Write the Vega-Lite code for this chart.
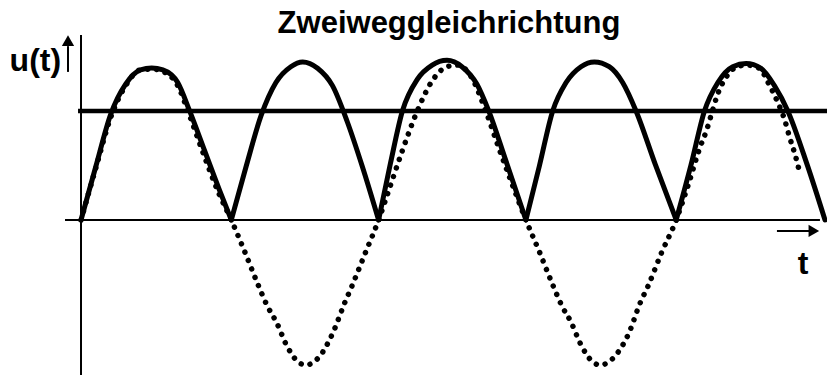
{
  "$schema": "https://vega.github.io/schema/vega-lite/v6.json",
  "width": 827,
  "height": 375,
  "padding": 0,
  "autosize": {"type": "none"},
  "background": "white",
  "config": {"view": {"stroke": null}},
  "datasets": {
    "solid": [
      {"hump": 1, "t": 0, "u": 0}, {"hump": 1, "t": 1, "u": 0.34}, {"hump": 1, "t": 2, "u": 0.67}, {"hump": 1, "t": 3, "u": 0.86}, {"hump": 1, "t": 4, "u": 0.95}, {"hump": 1, "t": 4.75, "u": 0.962}, {"hump": 1, "t": 5.5, "u": 0.95}, {"hump": 1, "t": 6.5, "u": 0.87}, {"hump": 1, "t": 7.3, "u": 0.69}, {"hump": 1, "t": 8.3, "u": 0.44}, {"hump": 1, "t": 9.3, "u": 0.19}, {"hump": 1, "t": 10.1, "u": 0},
      {"hump": 2, "t": 10.1, "u": 0}, {"hump": 2, "t": 11.1, "u": 0.34}, {"hump": 2, "t": 12.1, "u": 0.66}, {"hump": 2, "t": 13.1, "u": 0.87}, {"hump": 2, "t": 14.1, "u": 0.97}, {"hump": 2, "t": 14.9, "u": 1.0}, {"hump": 2, "t": 15.9, "u": 0.96}, {"hump": 2, "t": 16.9, "u": 0.85}, {"hump": 2, "t": 17.9, "u": 0.62}, {"hump": 2, "t": 18.9, "u": 0.34}, {"hump": 2, "t": 20.0, "u": 0},
      {"hump": 3, "t": 20.0, "u": 0}, {"hump": 3, "t": 20.8, "u": 0.36}, {"hump": 3, "t": 21.6, "u": 0.69}, {"hump": 3, "t": 22.6, "u": 0.89}, {"hump": 3, "t": 23.6, "u": 0.98}, {"hump": 3, "t": 24.6, "u": 1.01}, {"hump": 3, "t": 25.6, "u": 0.97}, {"hump": 3, "t": 26.6, "u": 0.86}, {"hump": 3, "t": 27.4, "u": 0.69}, {"hump": 3, "t": 28.5, "u": 0.39}, {"hump": 3, "t": 29.9, "u": 0},
      {"hump": 4, "t": 29.9, "u": 0}, {"hump": 4, "t": 30.8, "u": 0.34}, {"hump": 4, "t": 31.7, "u": 0.69}, {"hump": 4, "t": 32.6, "u": 0.87}, {"hump": 4, "t": 33.6, "u": 0.97}, {"hump": 4, "t": 34.5, "u": 1.0}, {"hump": 4, "t": 35.5, "u": 0.97}, {"hump": 4, "t": 36.4, "u": 0.87}, {"hump": 4, "t": 37.3, "u": 0.69}, {"hump": 4, "t": 38.6, "u": 0.35}, {"hump": 4, "t": 40.0, "u": 0},
      {"hump": 5, "t": 40.0, "u": 0}, {"hump": 5, "t": 41.0, "u": 0.35}, {"hump": 5, "t": 41.9, "u": 0.69}, {"hump": 5, "t": 42.8, "u": 0.87}, {"hump": 5, "t": 43.8, "u": 0.97}, {"hump": 5, "t": 44.7, "u": 0.99}, {"hump": 5, "t": 45.7, "u": 0.96}, {"hump": 5, "t": 46.6, "u": 0.85}, {"hump": 5, "t": 47.5, "u": 0.69}, {"hump": 5, "t": 48.8, "u": 0.35}, {"hump": 5, "t": 50.0, "u": 0}
    ],
    "dotted": [
      {"t": 0, "u": 0}, {"t": 1, "u": 0.33}, {"t": 2, "u": 0.65}, {"t": 3, "u": 0.85}, {"t": 4, "u": 0.95}, {"t": 4.75, "u": 0.955}, {"t": 5.5, "u": 0.94}, {"t": 6.5, "u": 0.85}, {"t": 7.3, "u": 0.66}, {"t": 8.3, "u": 0.4}, {"t": 9.3, "u": 0.16}, {"t": 10.1, "u": 0},
      {"t": 11.0, "u": -0.2}, {"t": 11.9, "u": -0.41}, {"t": 12.5, "u": -0.54}, {"t": 13.15, "u": -0.65}, {"t": 13.8, "u": -0.79}, {"t": 14.5, "u": -0.89}, {"t": 15.1, "u": -0.918}, {"t": 16.06, "u": -0.86}, {"t": 16.9, "u": -0.72}, {"t": 17.74, "u": -0.52}, {"t": 18.2, "u": -0.42}, {"t": 19.1, "u": -0.21}, {"t": 20.0, "u": 0},
      {"t": 20.8, "u": 0.22}, {"t": 21.6, "u": 0.44}, {"t": 22.6, "u": 0.69}, {"t": 23.6, "u": 0.88}, {"t": 24.6, "u": 0.97}, {"t": 25.3, "u": 0.98}, {"t": 26.2, "u": 0.91}, {"t": 27.2, "u": 0.69}, {"t": 28.1, "u": 0.45}, {"t": 29.0, "u": 0.22}, {"t": 29.9, "u": 0},
      {"t": 30.8, "u": -0.2}, {"t": 31.7, "u": -0.41}, {"t": 32.3, "u": -0.54}, {"t": 32.95, "u": -0.65}, {"t": 33.6, "u": -0.79}, {"t": 34.3, "u": -0.89}, {"t": 34.9, "u": -0.918}, {"t": 35.9, "u": -0.86}, {"t": 36.8, "u": -0.72}, {"t": 37.6, "u": -0.52}, {"t": 38.1, "u": -0.42}, {"t": 39.0, "u": -0.21}, {"t": 40.0, "u": 0},
      {"t": 40.8, "u": 0.22}, {"t": 41.6, "u": 0.46}, {"t": 42.05, "u": 0.57}, {"t": 42.4, "u": 0.68}, {"t": 42.8, "u": 0.8}, {"t": 43.4, "u": 0.91}, {"t": 44.1, "u": 0.97}, {"t": 44.7, "u": 0.98}, {"t": 45.6, "u": 0.96}, {"t": 46.2, "u": 0.865}, {"t": 46.75, "u": 0.76}, {"t": 47.3, "u": 0.63}, {"t": 47.6, "u": 0.53}, {"t": 48.0, "u": 0.41}, {"t": 48.3, "u": 0.3}
    ],
    "guides": [
      {"t": 0, "u": 1.171, "t2": 0, "u2": -0.981},
      {"t": -1.075, "u": 0, "t2": 49.66, "u2": 0},
      {"t": -0.874, "u": 0.937, "t2": -0.874, "u2": 1.1},
      {"t": 46.77, "u": -0.0696, "t2": 49.0, "u2": -0.0696}
    ],
    "level": [
      {"t": -0.2, "u": 0.69, "t2": 50.134, "u2": 0.69}
    ]
  },
  "encoding": {
    "x": {"field": "t", "type": "quantitative", "axis": null, "scale": {"domain": [-5.444, 50.134], "nice": false, "zero": false}},
    "y": {"field": "u", "type": "quantitative", "axis": null, "scale": {"domain": [-0.981, 1.392], "nice": false, "zero": false}}
  },
  "layer": [
    {
      "data": {"name": "guides"},
      "mark": {"type": "rule", "color": "black", "strokeWidth": 2},
      "encoding": {"x2": {"field": "t2"}, "y2": {"field": "u2"}}
    },
    {
      "data": {"name": "level"},
      "mark": {"type": "rule", "color": "black", "strokeWidth": 4.5},
      "encoding": {"x2": {"field": "t2"}, "y2": {"field": "u2"}}
    },
    {
      "data": {"values": [{"t": -0.874, "u": 1.135}]},
      "mark": {"type": "point", "shape": "triangle-up", "filled": true, "color": "black", "opacity": 1, "size": 150},
      "encoding": {}
    },
    {
      "data": {"values": [{"t": 49.25, "u": -0.0696}]},
      "mark": {"type": "point", "shape": "triangle-right", "filled": true, "color": "black", "opacity": 1, "size": 150},
      "encoding": {}
    },
    {
      "data": {"name": "dotted"},
      "mark": {"type": "line", "color": "black", "strokeWidth": 5.5, "strokeCap": "round", "strokeDash": [0.01, 9], "interpolate": "monotone"},
      "encoding": {"order": {"field": "t", "type": "quantitative"}}
    },
    {
      "data": {"name": "solid"},
      "mark": {"type": "line", "color": "black", "strokeWidth": 5, "strokeCap": "round", "strokeJoin": "round", "interpolate": "monotone"},
      "encoding": {"detail": {"field": "hump", "type": "nominal"}, "order": {"field": "t", "type": "quantitative"}}
    },
    {
      "data": {"values": [{"t": 24.73, "u": 1.184, "label": "Zweiweggleichrichtung"}]},
      "mark": {"type": "text", "font": "Liberation Sans", "fontWeight": "bold", "fontSize": 31, "align": "center", "baseline": "alphabetic", "color": "black"},
      "encoding": {"text": {"field": "label"}}
    },
    {
      "data": {"values": [{"t": -4.8, "u": 0.943, "label": "u(t)"}]},
      "mark": {"type": "text", "font": "Liberation Sans", "fontWeight": "bold", "fontSize": 32, "align": "left", "baseline": "alphabetic", "color": "black"},
      "encoding": {"text": {"field": "label"}}
    },
    {
      "data": {"values": [{"t": 48.52, "u": -0.342, "label": "t"}]},
      "mark": {"type": "text", "font": "Liberation Sans", "fontWeight": "bold", "fontSize": 32, "align": "center", "baseline": "alphabetic", "color": "black"},
      "encoding": {"text": {"field": "label"}}
    }
  ]
}
